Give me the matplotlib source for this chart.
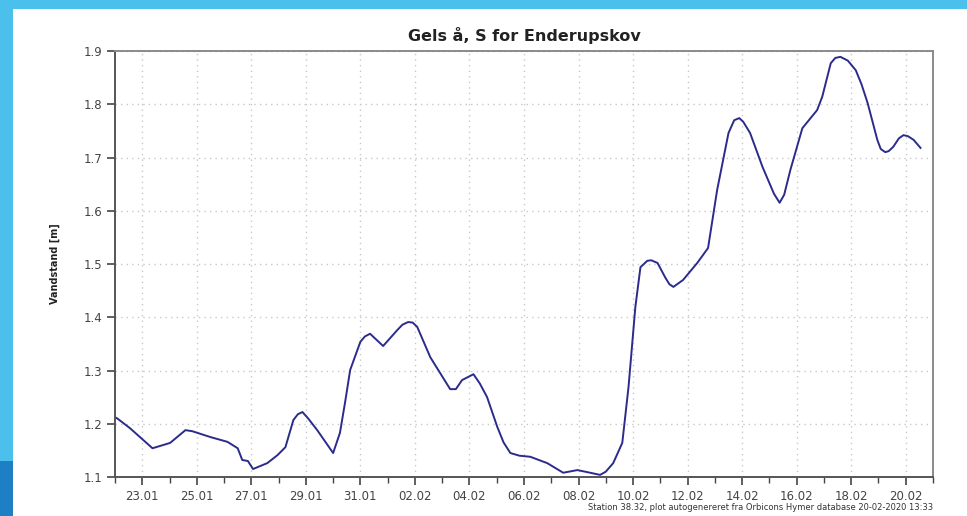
import matplotlib
matplotlib.use('Agg')
import matplotlib.pyplot as plt
import matplotlib.dates as mdates
import matplotlib.patches as mpatches
import pandas as pd

# data (time, water level in m)
times = [
    '2020-01-22 00:00', '2020-01-22 02:00', '2020-01-22 13:00', '2020-01-23 09:00',
    '2020-01-24 00:30', '2020-01-24 14:00', '2020-01-24 20:00', '2020-01-25 12:00',
    '2020-01-26 03:00', '2020-01-26 12:00', '2020-01-26 16:00', '2020-01-26 21:00',
    '2020-01-27 01:30', '2020-01-27 14:00', '2020-01-27 23:00', '2020-01-28 06:00',
    '2020-01-28 13:00', '2020-01-28 17:00', '2020-01-28 21:00', '2020-01-29 02:00',
    '2020-01-29 10:00', '2020-01-30 00:00', '2020-01-30 06:00', '2020-01-30 10:30',
    '2020-01-30 15:00', '2020-01-31 00:00', '2020-01-31 04:00', '2020-01-31 08:30',
    '2020-01-31 20:00', '2020-02-01 08:30', '2020-02-01 13:00', '2020-02-01 18:00',
    '2020-02-01 22:00', '2020-02-02 02:00', '2020-02-02 13:30', '2020-02-03 07:00',
    '2020-02-03 12:00', '2020-02-03 17:30', '2020-02-04 03:30', '2020-02-04 09:00',
    '2020-02-04 15:30', '2020-02-05 00:30', '2020-02-05 06:00', '2020-02-05 12:00',
    '2020-02-05 20:00', '2020-02-06 05:30', '2020-02-06 20:30', '2020-02-07 10:30',
    '2020-02-07 23:00', '2020-02-08 08:00', '2020-02-08 19:00', '2020-02-09 00:00',
    '2020-02-09 06:30', '2020-02-09 14:30', '2020-02-09 20:00', '2020-02-10 02:00',
    '2020-02-10 06:30', '2020-02-10 12:30', '2020-02-10 16:00', '2020-02-10 21:30',
    '2020-02-11 04:30', '2020-02-11 08:00', '2020-02-11 11:30', '2020-02-11 20:00',
    '2020-02-12 08:30', '2020-02-12 18:00', '2020-02-13 02:00', '2020-02-13 12:00',
    '2020-02-13 17:00', '2020-02-13 21:30', '2020-02-14 01:00', '2020-02-14 07:00',
    '2020-02-14 18:00', '2020-02-15 04:00', '2020-02-15 09:00', '2020-02-15 13:00',
    '2020-02-15 18:30', '2020-02-16 05:00', '2020-02-16 18:00', '2020-02-16 22:30',
    '2020-02-17 06:00', '2020-02-17 10:00', '2020-02-17 14:30', '2020-02-17 21:00',
    '2020-02-18 04:00', '2020-02-18 09:00', '2020-02-18 14:30', '2020-02-18 23:00',
    '2020-02-19 02:00', '2020-02-19 06:00', '2020-02-19 09:00', '2020-02-19 13:00',
    '2020-02-19 18:00', '2020-02-19 22:00', '2020-02-20 02:00', '2020-02-20 07:00',
    '2020-02-20 13:00',
]
levels = [
    1.212, 1.210, 1.192, 1.154,
    1.164, 1.188, 1.186, 1.175,
    1.166, 1.154, 1.132, 1.130,
    1.115, 1.126, 1.141, 1.156,
    1.207, 1.218, 1.222, 1.210,
    1.188, 1.145, 1.183, 1.240,
    1.301, 1.354, 1.364, 1.369,
    1.346, 1.376, 1.386, 1.391,
    1.390, 1.382, 1.325, 1.265,
    1.265, 1.282, 1.293, 1.276,
    1.250, 1.194, 1.165, 1.145,
    1.140, 1.138, 1.126, 1.108,
    1.113, 1.109, 1.104, 1.110,
    1.126, 1.164, 1.269, 1.419,
    1.494, 1.506, 1.507, 1.502,
    1.474, 1.462, 1.457, 1.470,
    1.502, 1.530, 1.639, 1.746,
    1.770, 1.774, 1.767, 1.746,
    1.682, 1.632, 1.615, 1.630,
    1.677, 1.755, 1.789, 1.814,
    1.877, 1.887, 1.889, 1.882,
    1.864, 1.838, 1.802, 1.733,
    1.716, 1.710, 1.712, 1.720,
    1.736, 1.742, 1.740, 1.733,
    1.718,
]
y_ticks = [1.1, 1.2, 1.3, 1.4, 1.5, 1.6, 1.7, 1.8, 1.9]

title = 'Gels å, S for Enderupskov'
ylabel = 'Vandstand [m]'
footer = 'Station 38.32, plot autogenereret fra Orbicons Hymer database 20-02-2020 13:33'

plt.rcParams['font.family'] = ['DejaVu Sans']

t = pd.to_datetime(times)

fig = plt.figure(figsize=(9.67, 5.16), dpi=100)
fig.patch.set_facecolor('#4cc0ec')

# white page on the blue background
page = mpatches.Rectangle((13 / 967, 0), 1, 1 - 9 / 516, transform=fig.transFigure,
                          facecolor='white', edgecolor='none', zorder=-2)
fig.patches.append(page)
# darker blue decoration at lower left
deco = mpatches.Rectangle((0, 0), 13 / 967, 55 / 516, transform=fig.transFigure,
                          facecolor='#1f7fc4', edgecolor='none', zorder=-2)
fig.patches.append(deco)

ax = fig.add_axes([115 / 967, 39 / 516, 818 / 967, 426 / 516])
ax.set_zorder(2)
ax.set_facecolor('white')

ax.plot(t, levels, color='#2b2b8c', lw=1.4, solid_joinstyle='round')

ax.set_xlim(pd.Timestamp('2020-01-22'), pd.Timestamp('2020-02-21'))
ax.set_ylim(1.1, 1.9)
ax.set_yticks(y_ticks)
ax.yaxis.set_major_formatter(plt.FuncFormatter(lambda v, p: f'{v:.1f}'))

major = pd.date_range('2020-01-23', '2020-02-20', freq='2D')
minor = pd.date_range('2020-01-22', '2020-02-21', freq='D')
ax.set_xticks(mdates.date2num(major))
ax.set_xticks(mdates.date2num(minor), minor=True)
ax.xaxis.set_major_formatter(mdates.DateFormatter('%d.%m'))

ax.grid(True, which='major', color='#c8c8c8', linestyle=(0, (1, 3)), lw=1)
ax.tick_params(axis='both', which='major', direction='out', length=6, width=1.2,
               color='#444444', labelsize=8.5, labelcolor='#444444', pad=3)
ax.tick_params(axis='x', which='minor', direction='out', length=4, width=1.0,
               color='#444444')

for side in ['left', 'bottom']:
    ax.spines[side].set_color('#555555')
    ax.spines[side].set_linewidth(1.4)
for side in ['top', 'right']:
    ax.spines[side].set_color('#8a8a8a')
    ax.spines[side].set_linewidth(1.4)

ax.set_title(title, fontsize=11.5, fontweight='bold', color='#222222', pad=7)
ax.set_ylabel(ylabel, fontsize=7, fontweight='bold', color='#222222', labelpad=17)

fig.text(933 / 967, 1 - 507 / 516, footer, ha='right', va='center',
         fontsize=6, color='#333333')

fig.savefig('out.png', dpi=100, facecolor=fig.get_facecolor())
